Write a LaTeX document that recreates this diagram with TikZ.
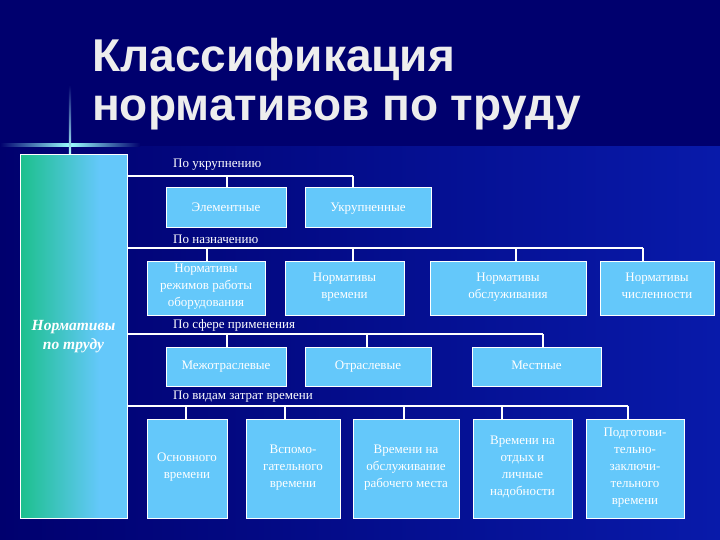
\documentclass[tikz,border=0pt]{standalone}
\usepackage{fontspec}
\setmainfont{Liberation Serif}
\newfontfamily\titlefont{Liberation Sans}
\definecolor{bgdark}{RGB}{0,0,110}
\definecolor{bgblue}{RGB}{8,26,170}
\definecolor{skyc}{RGB}{100,200,250}
\definecolor{tealc}{RGB}{28,192,140}
\pgfdeclarehorizontalshading{lboxshade}{100bp}{color(0bp)=(tealc); color(25bp)=(tealc); color(62bp)=(skyc); color(100bp)=(skyc)}
\begin{document}
\begin{tikzpicture}[x=1pt, y=-1pt,
    box/.style={draw=white, line width=1pt, fill=skyc, text=white, inner sep=0pt,
        font=\fontsize{13}{17}\selectfont, align=center,
        execute at begin node=\strut, execute at end node=\strut},
    wire/.style={white, line width=1.1pt},
    group/.style={anchor=west, text=white, inner sep=0pt, font=\fontsize{13}{15}\selectfont},
    headline/.style={anchor=base west, inner sep=0pt, text=white!93!black,
        font=\titlefont\bfseries\fontsize{46}{50}\selectfont}]
    \useasboundingbox (0,0) rectangle (720,540);

    % Background
    \fill[bgdark] (0,0) rectangle (720,540);
    \shade[left color=bgdark, right color=bgblue] (0,147) rectangle (720,540);

    % Cross at the left
    \shade[left color=bgdark, right color=bgdark, middle color=cyan!40] (0,144) rectangle (140,146.5);
    \shade[top color=bgdark, bottom color=cyan!30!white] (68.8,85) rectangle (71.2,155);

    % Title
    \node[headline] (t1) at (92,72) {Классификация};
    \node[headline] (t2) at (92,121) {нормативов по труду};

    % Left box
    \node[draw=white, line width=1pt, shading=lboxshade, minimum width=107pt, minimum height=363pt,
        inner sep=0pt, text=white, align=center, font=\fontsize{15.5}{19}\selectfont\bfseries\itshape]
        (lbox) at (73.5,336.5) {Нормативы\\по труду};

    % По укрупнению
    \node[group] (g1) at (173,165) {По укрупнению};
    \node[box, minimum width=120pt, minimum height=40pt] (e1) at (226,208) {Элементные};
    \node[box, minimum width=126pt, minimum height=40pt] (e2) at (368,208) {Укрупненные};
    \coordinate (u1) at (353,176);
    \draw[wire] (lbox.east |- u1) -- (u1);
    \foreach \x/\n in {227/e1, 353/e2}
        \draw[wire] (\x,176) -- (\x,176 |- \n.north);

    % По назначению
    \node[group] (g2) at (173,239) {По назначению};
    \node[box, minimum width=118pt, minimum height=54pt] (n1) at (206,288) {Нормативы\\режимов работы\\оборудования};
    \node[box, minimum width=119pt, minimum height=54pt] (n2) at (344.5,288) {Нормативы\\времени};
    \node[box, minimum width=156pt, minimum height=54pt] (n3) at (508,288) {Нормативы\\обслуживания};
    \node[box, minimum width=114pt, minimum height=54pt] (n4) at (657,288) {Нормативы\\численности};
    \coordinate (u2) at (643,248);
    \draw[wire] (lbox.east |- u2) -- (u2);
    \foreach \x/\n in {207/n1, 353/n2, 516/n3, 643/n4}
        \draw[wire] (\x,248) -- (\x,248 |- \n.north);

    % По сфере применения
    \node[group] (g3) at (173,325) {По сфере применения};
    \node[box, minimum width=120pt, minimum height=39pt] (s1) at (226,366.5) {Межотраслевые};
    \node[box, minimum width=126pt, minimum height=39pt] (s2) at (368,366.5) {Отраслевые};
    \node[box, minimum width=129pt, minimum height=39pt] (s3) at (536.5,366.5) {Местные};
    \coordinate (u3) at (543,334);
    \draw[wire] (lbox.east |- u3) -- (u3);
    \foreach \x/\n in {227/s1, 367/s2, 543/s3}
        \draw[wire] (\x,334) -- (\x,334 |- \n.north);

    % По видам затрат времени
    \node[group] (g4) at (173,397) {По видам затрат времени};
    \node[box, minimum width=80pt, minimum height=99pt] (v1) at (187,468.5) {Основного\\времени};
    \node[box, minimum width=94pt, minimum height=99pt] (v2) at (293,468.5) {Вспомо-\\гательного\\времени};
    \node[box, minimum width=106pt, minimum height=99pt] (v3) at (406,468.5) {Времени на\\обслуживание\\рабочего места};
    \node[box, minimum width=99pt, minimum height=99pt] (v4) at (522.5,468.5) {Времени на\\отдых и\\личные\\надобности};
    \node[box, minimum width=98pt, minimum height=99pt] (v5) at (635,468.5) {Подготови-\\тельно-\\заключи-\\тельного\\времени};
    \coordinate (u4) at (628,406);
    \draw[wire] (lbox.east |- u4) -- (u4);
    \foreach \x/\n in {186/v1, 285/v2, 404/v3, 502/v4, 628/v5}
        \draw[wire] (\x,406) -- (\x,406 |- \n.north);
\end{tikzpicture}
\end{document}
